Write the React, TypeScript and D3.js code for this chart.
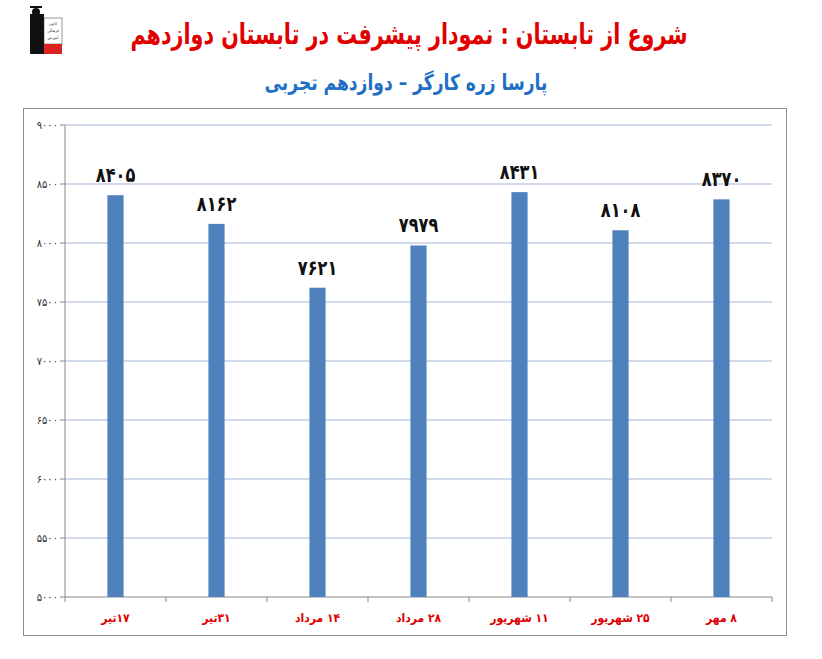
import React from "react";
import * as d3 from "d3";

const categories = ["۱۷تیر", "۳۱تیر", "۱۴ مرداد", "۲۸ مرداد", "۱۱ شهریور", "۲۵ شهریور", "۸ مهر"];
const values = [8405, 8162, 7621, 7979, 8431, 8108, 8370];
const yTicks = [5000, 5500, 6000, 6500, 7000, 7500, 8000, 8500, 9000];
const title = "شروع از تابستان : نمودار پیشرفت در تابستان دوازدهم";
const subtitle = "پارسا زره کارگر – دوازدهم تجربی";

const fa = (n: number) => String(n).replace(/[0-9]/g, (d) => "۰۱۲۳۴۵۶۷۸۹"[+d]);

export default function App() {
  const W = 822, H = 659;
  const left = 65, right = 772, top = 125, bottom = 597;
  const x = d3.scaleBand<string>().domain(categories).range([left, right]).paddingInner(0.84).paddingOuter(0.42);
  const y = d3.scaleLinear().domain([5000, 9000]).range([bottom, top]);
  const step = x.step();
  const font = "'DejaVu Sans Condensed', 'DejaVu Sans', sans-serif";
  return (
    <svg width={W} height={H} style={{ position: "absolute", left: 0, top: 0, background: "#fff" }} fontFamily={font}>
      <rect width={W} height={H} fill="#fff" />
      {/* logo */}
      <g>
        <rect x={30} y={14} width={14} height={40} fill="#111" />
        <circle cx={36} cy={12} r={4} fill="#111" />
        <rect x={30} y={6} width={12} height={2} fill="#111" />
        <rect x={44} y={18} width={18} height={26} fill="#fff" stroke="#333" strokeWidth={0.5} />
        <text x={53} y={25} fontSize={4} textAnchor="middle" fill="#333">کانون</text>
        <text x={53} y={32} fontSize={4} textAnchor="middle" fill="#333">فرهنگی</text>
        <text x={53} y={39} fontSize={4} textAnchor="middle" fill="#333">آموزش</text>
        <rect x={44} y={44} width={18} height={10} fill="#d22" />
      </g>
      <g transform="translate(409,44) scale(1,1.25)">
        <text x={0} y={0} textAnchor="middle" fontSize={23} fontWeight="bold" fill="#e00000" direction="rtl">{title}</text>
      </g>
      <g transform="translate(406,90) scale(1,1.15)">
        <text x={0} y={0} textAnchor="middle" fontSize={19} fontWeight="bold" fill="#1f6fc5" direction="rtl">{subtitle}</text>
      </g>
      {/* frame */}
      <rect x={23.5} y={108.5} width={763} height={527} fill="none" stroke="#8c8c8c" strokeWidth={1} />
      {/* gridlines */}
      {yTicks.map((t) => (
        <g key={t}>
          {t > 5000 && <line x1={left} x2={right} y1={y(t)} y2={y(t)} stroke="#a3b3d6" strokeWidth={1} />}
          <line x1={left - 5} x2={left} y1={y(t)} y2={y(t)} stroke="#888" />
          <text x={left - 7} y={y(t) + 4} textAnchor="end" fontSize={11} fill="#333">{fa(t)}</text>
        </g>
      ))}
      {/* axes */}
      <line x1={left} x2={left} y1={top} y2={bottom} stroke="#888" />
      <line x1={left} x2={right} y1={bottom} y2={bottom} stroke="#888" />
      {d3.range(categories.length + 1).map((i) => (
        <line key={i} x1={left + i * step} x2={left + i * step} y1={bottom} y2={bottom + 5} stroke="#888" />
      ))}
      {/* bars */}
      {categories.map((c, i) => {
        const bx = x(c)!;
        const v = values[i];
        return (
          <g key={c}>
            <rect x={bx} y={y(v)} width={x.bandwidth()} height={bottom - y(v)} fill="#4f81bd" />
            <g transform={`translate(${bx + x.bandwidth() / 2},${y(v) - 13}) scale(1,1.15)`}>
              <text x={0} y={0} textAnchor="middle" fontSize={18} fontWeight="bold" fill="#111">{fa(v)}</text>
            </g>
            <text x={bx + x.bandwidth() / 2} y={622} textAnchor="middle" fontSize={12} fontWeight="bold" fill="#e00000" direction="rtl">{c}</text>
          </g>
        );
      })}
    </svg>
  );
}
